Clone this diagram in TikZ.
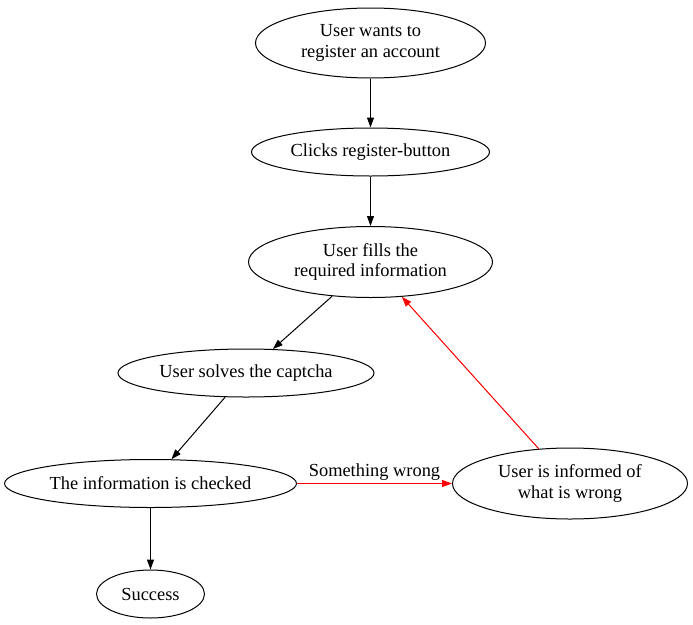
\documentclass[tikz,border=0pt]{standalone}
\usepackage{fontspec}
\setmainfont{Liberation Serif}
\usetikzlibrary{shapes.geometric,arrows.meta}
\begin{document}
\begin{tikzpicture}[x=1pt,y=-1pt,
  st/.style={draw,ellipse,inner sep=0pt,align=center,font=\fontsize{18.4pt}{20.5pt}\selectfont,line width=1pt},
  arr/.style={line width=1pt,-{Triangle[length=10pt,width=7pt]}},
  redarr/.style={arr,draw=red,fill=red},
  lbl/.style={font=\fontsize{18.4pt}{20.5pt}\selectfont,inner sep=3pt}]
\useasboundingbox (0,0) rectangle (693,624);
\node[st,minimum width=230pt,minimum height=70pt] (n1) at (370.5,43) {User wants to\\register an account};
\node[st,minimum width=238pt,minimum height=48pt] (n2) at (370.5,152) {Clicks register-button};
\node[st,minimum width=244pt,minimum height=71pt] (n3) at (370.5,262) {User fills the\\required information};
\node[st,minimum width=256pt,minimum height=48pt] (n4) at (246,373) {User solves the captcha};
\node[st,minimum width=292pt,minimum height=48pt] (n5) at (150.5,483.5) {The information is checked};
\node[st,minimum width=108pt,minimum height=48pt] (n6) at (150.5,594) {Success};
\node[st,minimum width=235pt,minimum height=71pt] (n7) at (570,483.5) {User is informed of\\what is wrong};
\draw[arr] (n1) -- (n2);
\draw[arr] (n2) -- (n3);
\draw[arr] (n3) -- (n4);
\draw[arr] (n4) -- (n5);
\draw[arr] (n5) -- (n6);
\draw[redarr] (n5) -- (n7);
\path (n5) -- node[above,lbl] (lab) {Something wrong} (n7);
\draw[redarr] (n7) -- (n3);
\end{tikzpicture}
\end{document}
